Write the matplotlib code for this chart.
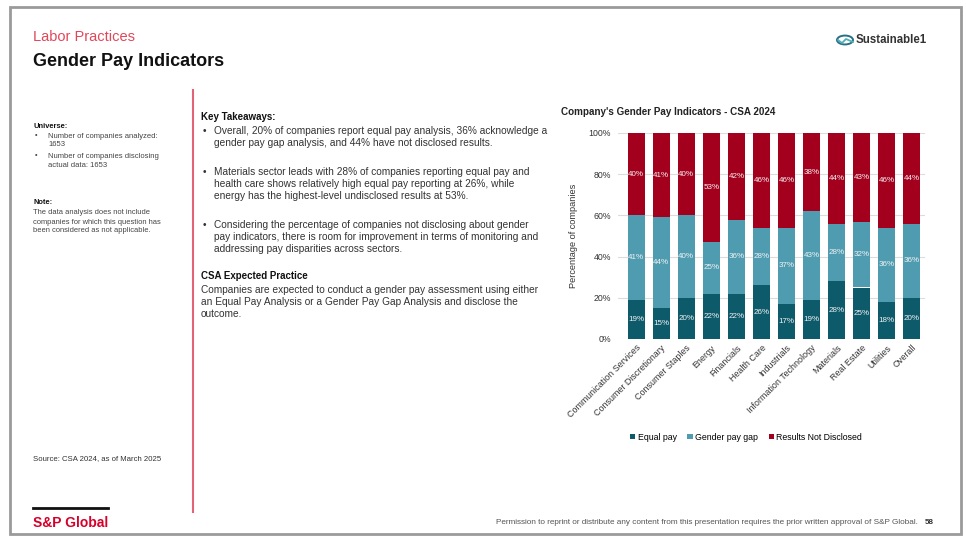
import matplotlib
matplotlib.use("Agg")
import matplotlib.pyplot as plt
from matplotlib.patches import Rectangle, Circle
from matplotlib.lines import Line2D
import numpy as np

plt.rcParams['font.family'] = ['Liberation Sans', 'DejaVu Sans']

sectors = ["Communication Services", "Consumer Discretionary", "Consumer Staples", "Energy",
           "Financials", "Health Care", "Industrials", "Information Technology", "Materials",
           "Real Estate", "Utilities", "Overall"]
equal_pay = [19, 15, 20, 22, 22, 26, 17, 19, 28, 25, 18, 20]
pay_gap = [41, 44, 40, 25, 36, 28, 37, 43, 28, 32, 36, 36]
not_disclosed = [40, 41, 40, 53, 42, 46, 46, 38, 44, 43, 46, 44]
series_names = ["Equal pay", "Gender pay gap", "Results Not Disclosed"]
yticks = [0, 20, 40, 60, 80, 100]

c_eq = "#0d5a6b"
c_gap = "#4f9cb1"
c_nd = "#a3001e"

W, H = 966, 537
fig = plt.figure(figsize=(W / 100, H / 100), dpi=100)

def P(x, y):
    return (x / W, 1 - y / H)

def T(x, y, s, **kw):
    fig.text(*P(x, y), s, **kw)

# slide frame
fig.add_artist(Rectangle(P(10, 534), 951 / W, 527 / H, transform=fig.transFigure,
                         fill=False, edgecolor="#9a9a9a", linewidth=2))

# header
T(33, 37, "Labor Practices", color="#e0475a", fontsize=10.5, va="center")
T(33, 62, "Gender Pay Indicators", color="#111111", fontsize=13, fontweight="bold", va="center")

# Sustainable1 logo
fig.add_artist(Circle(P(845, 40), 8 / W, transform=fig.transFigure, fill=False,
                      edgecolor="#2a6f86", linewidth=1.4))
fig.add_artist(Line2D([838 / W, 842 / W, 846 / W, 853 / W], [1 - 40 / H, 1 - 43 / H, 1 - 39 / H, 1 - 42 / H],
                      transform=fig.transFigure, color="#4fb0b8", linewidth=1.3))
T(856, 40, "Sustainable1", color="#333333", fontsize=8.3, fontweight="bold", va="center")

# left column
txt = "#444444"
T(33, 127, "Universe:", fontsize=5.4, fontweight="bold", color="#111111", va="center")
for y, s, b in [(136, "Number of companies analyzed:", True), (145, "1653", False),
                (156, "Number of companies disclosing", True), (165, "actual data: 1653", False)]:
    if b:
        T(35, y, "•", fontsize=5.4, color=txt, va="center")
    T(48, y, s, fontsize=5.5, color=txt, va="center")
T(33, 203, "Note:", fontsize=5.4, fontweight="bold", color="#111111", va="center")
for y, s in [(213, "The data analysis does not include"), (222, "companies for which this question has"),
             (231, "been considered as not applicable.")]:
    T(33, y, s, fontsize=5.4, color=txt, va="center")
T(33, 459, "Source: CSA 2024, as of March 2025", fontsize=5.6, color="#333333", va="center")

# vertical red divider
fig.add_artist(Line2D([193 / W, 193 / W], [1 - 90 / H, 1 - 512 / H], transform=fig.transFigure,
                      color="#e06476", linewidth=1.5))

# middle text
mid = "#333333"
fs = 7.3
T(201, 117, "Key Takeaways:", fontsize=7, fontweight="bold", color="#111111", va="center")
bullets = [
    [(131, "Overall, 20% of companies report equal pay analysis, 36% acknowledge a"),
     (143, "gender pay gap analysis, and 44% have not disclosed results.")],
    [(172, "Materials sector leads with 28% of companies reporting equal pay and"),
     (184, "health care shows relatively high equal pay reporting at 26%, while"),
     (196, "energy has the highest-level undisclosed results at 53%.")],
    [(225, "Considering the percentage of companies not disclosing about gender"),
     (237, "pay indicators, there is room for improvement in terms of monitoring and"),
     (249, "addressing pay disparities across sectors.")],
]
for grp in bullets:
    T(203, grp[0][0], "•", fontsize=fs, color=mid, va="center")
    for y, s in grp:
        T(214, y, s, fontsize=fs, color=mid, va="center")
T(201, 276, "CSA Expected Practice", fontsize=7, fontweight="bold", color="#111111", va="center")
for y, s in [(290, "Companies are expected to conduct a gender pay assessment using either"),
             (302, "an Equal Pay Analysis or a Gender Pay Gap Analysis and disclose the"),
             (314, "outcome.")]:
    T(201, y, s, fontsize=fs, color=mid, va="center")

# chart
T(561, 112, "Company's Gender Pay Indicators - CSA 2024", fontsize=7.1, fontweight="bold",
  color="#222222", va="center")

ax = fig.add_axes([618 / W, 1 - 339 / H, 307 / W, 206 / H])
x = np.arange(len(sectors))
w = 0.68
eq = np.array(equal_pay)
gap = np.array(pay_gap)
nd = np.array(not_disclosed)
b1 = ax.bar(x, eq, w, color=c_eq, label=series_names[0], zorder=3)
b2 = ax.bar(x, gap, w, bottom=eq, color=c_gap, label=series_names[1], zorder=3)
b3 = ax.bar(x, nd, w, bottom=eq + gap, color=c_nd, label=series_names[2], zorder=3)
for bars, vals, bottoms in [(b1, eq, 0 * eq), (b2, gap, eq), (b3, nd, eq + gap)]:
    for xi, v, b in zip(x, vals, bottoms):
        ax.text(xi, b + v / 2, f"{v}%", ha="center", va="center", color="#f2f2f2",
                fontsize=5.8, zorder=4)

ax.set_xlim(-0.72, 11.52)
ax.set_ylim(0, 100)
ax.set_yticks(yticks)
ax.set_yticklabels([f"{t}%" for t in yticks], fontsize=6.3, color="#333333")
ax.yaxis.grid(True, color="#dcdcdc", linewidth=0.8, zorder=0)
ax.set_axisbelow(True)
for sp in ax.spines.values():
    sp.set_visible(False)
ax.tick_params(axis="both", length=0)
ax.tick_params(axis="y", pad=5)
ax.set_xticks(x)
ax.set_xticklabels(sectors, rotation=45, ha="right", rotation_mode="anchor", fontsize=6.4,
                   color="#333333")
ax.tick_params(axis="x", pad=3)
ax.set_ylabel("Percentage of companies", fontsize=6.6, color="#333333", labelpad=8)

fig.legend(handles=[b1, b2, b3], labels=series_names, loc="center", bbox_to_anchor=P(746, 437),
           ncol=3, frameon=False, fontsize=6.3, handlelength=0.6, handleheight=0.6,
           handletextpad=0.3, columnspacing=1.2)

# footer
fig.add_artist(Line2D([33 / W, 108 / W], [1 - 508 / H, 1 - 508 / H], transform=fig.transFigure,
                      color="#111111", linewidth=2))
T(33, 523, "S&P Global", fontsize=10, fontweight="bold", color="#d6002a", va="center")
T(918, 523, "Permission to reprint or distribute any content from this presentation requires the prior written approval of S&P Global.",
  fontsize=5.9, color="#555555", va="center", ha="right")
T(925, 523, "58", fontsize=5.8, fontweight="bold", color="#333333", va="center")

fig.savefig("out.png", dpi=100)
